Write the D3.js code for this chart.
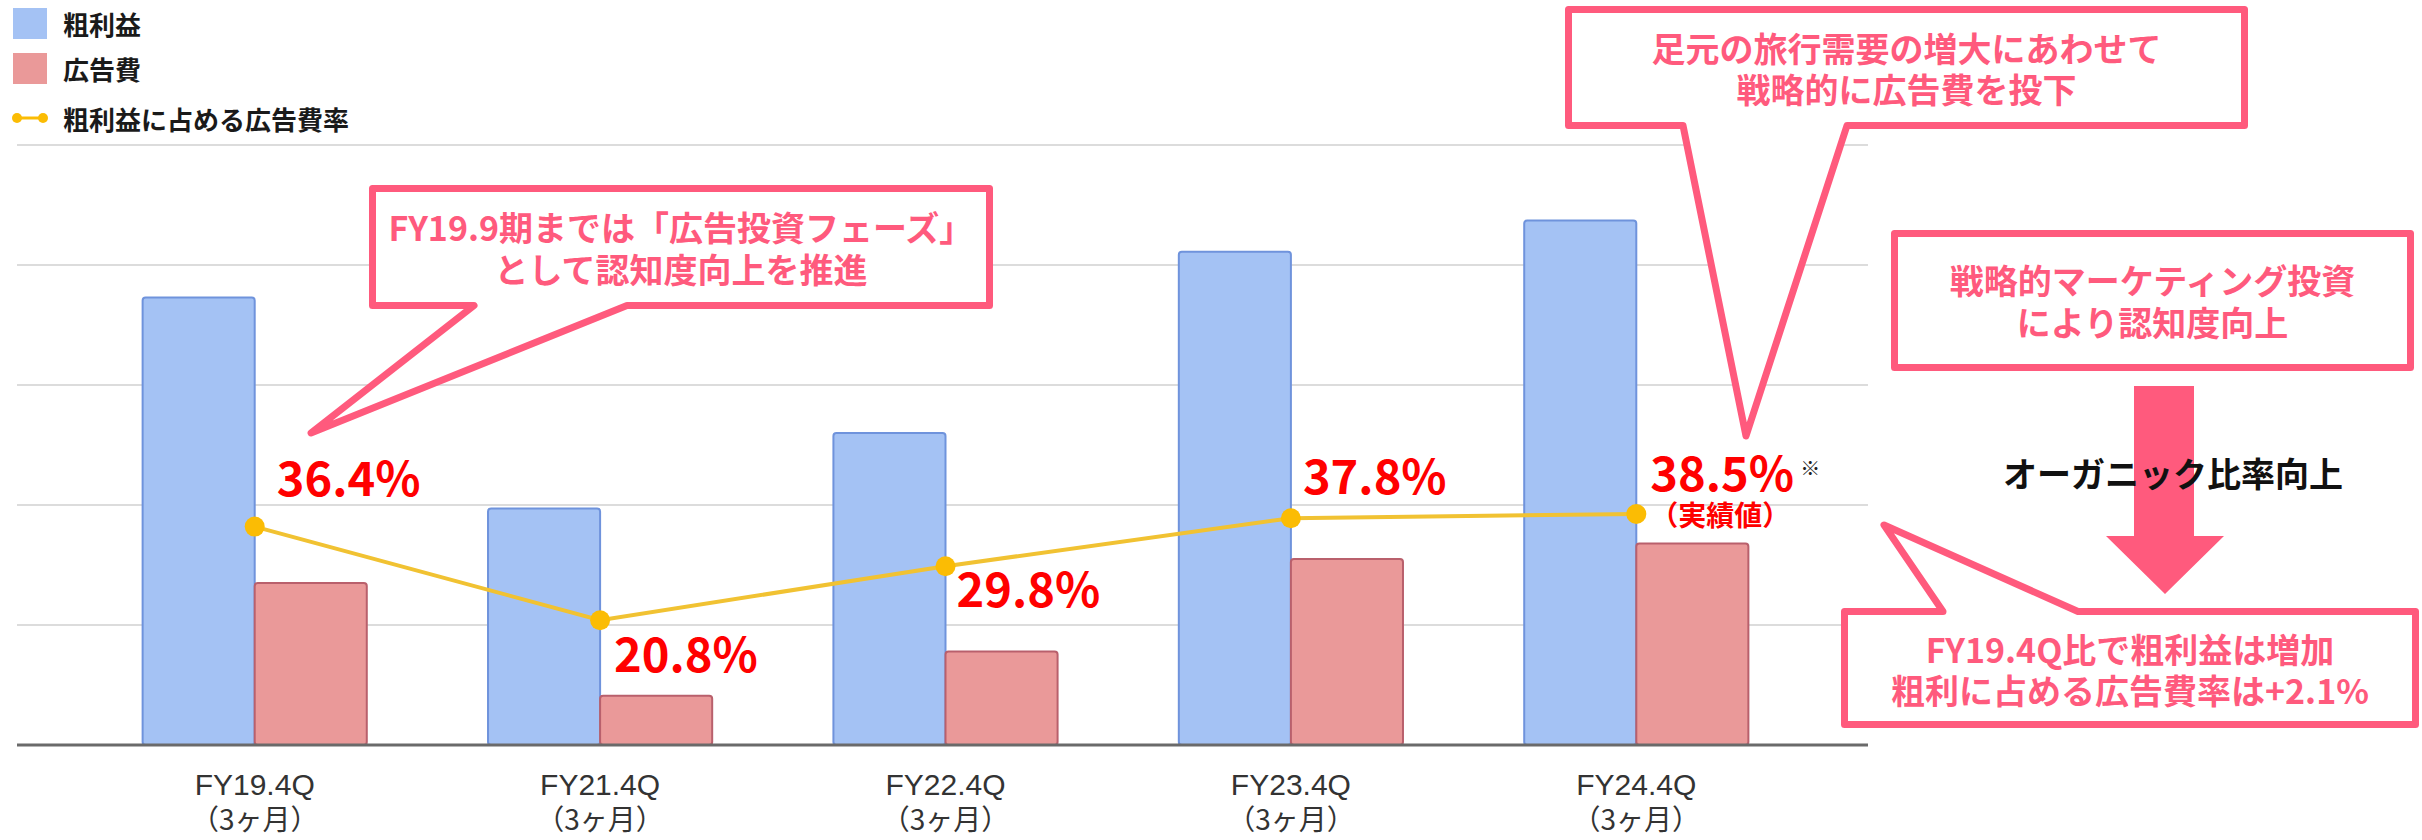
<!DOCTYPE html>
<html>
<head>
<meta charset="utf-8">
<script src="https://cdn.jsdelivr.net/npm/d3@7"></script>
<style>
  html, body { margin: 0; padding: 0; background: #fff; }
  svg { display: block; }
</style>
</head>
<body>
<div id="chart"></div>
<script>
// values (bar heights in arbitrary units, gridline = 100)
const categories = ["FY19.4Q", "FY21.4Q", "FY22.4Q", "FY23.4Q", "FY24.4Q"];
const periodLabels = ["（3ヶ月）", "（3ヶ月）", "（3ヶ月）", "（3ヶ月）", "（3ヶ月）"];
const grossProfit = [373, 197, 260, 411, 437];
const adCost = [135, 41, 78, 155, 168];
const adRatio = [36.4, 20.8, 29.8, 37.8, 38.5];
const ratioLabels = ["36.4%", "20.8%", "29.8%", "37.8%", "38.5%"];
const seriesNames = ["粗利益", "広告費", "粗利益に占める広告費率"];

const W = 2422, H = 840;
const JP = "'Noto Sans CJK JP', 'Noto Sans', sans-serif";
const PINK = "#ff5a7d";
const BLUE = "#a4c2f4", RED = "#ea9999", GOLD = "#fbbc04";

const svg = d3.select("#chart").append("svg")
  .attr("width", W).attr("height", H)
  .attr("viewBox", [0, 0, W, H]);

const x = d3.scaleBand().domain(categories)
  .range([82, 1809]).paddingInner(0.351).paddingOuter(0.1755);
const xs = d3.scaleBand().domain(["gross", "ad"]).range([0, x.bandwidth()]);
const y = d3.scaleLinear().domain([0, 500]).range([745, 145]);
const yr = d3.scaleLinear().domain([0, 100]).range([745, 145]);

// gridlines
svg.append("g").selectAll("line")
  .data(y.ticks(5).filter(d => d > 0))
  .join("line")
  .attr("x1", 17).attr("x2", 1868)
  .attr("y1", d => y(d)).attr("y2", d => y(d))
  .attr("stroke", "#dcdcdc").attr("stroke-width", 2);

// bars
const rows = categories.map((c, i) => ({ c, gross: grossProfit[i], ad: adCost[i], r: adRatio[i], i }));
const bars = svg.append("g");
bars.selectAll(".g").data(rows).join("rect")
  .attr("x", d => x(d.c) + xs("gross"))
  .attr("y", d => y(d.gross))
  .attr("width", xs.bandwidth())
  .attr("height", d => y(0) - y(d.gross))
  .attr("rx", 3)
  .attr("fill", BLUE).attr("stroke", "#6f93dc").attr("stroke-width", 2);
bars.selectAll(".a").data(rows).join("rect")
  .attr("x", d => x(d.c) + xs("ad"))
  .attr("y", d => y(d.ad))
  .attr("width", xs.bandwidth())
  .attr("height", d => y(0) - y(d.ad))
  .attr("rx", 3)
  .attr("fill", RED).attr("stroke", "#b9606c").attr("stroke-width", 2);

// baseline
svg.append("line")
  .attr("x1", 17).attr("x2", 1868).attr("y1", y(0)).attr("y2", y(0))
  .attr("stroke", "#6a6a6a").attr("stroke-width", 3);

// x axis with two-line labels
const xAxis = svg.append("g")
  .attr("transform", `translate(0,${y(0)})`)
  .call(d3.axisBottom(x).tickSize(0).tickPadding(0));
xAxis.select(".domain").remove();
xAxis.selectAll(".tick text").remove();
xAxis.selectAll(".tick").each(function (d, i) {
  const t = d3.select(this);
  t.append("text").attr("y", 50).attr("text-anchor", "middle")
    .attr("font-family", "'Liberation Sans', Arial, sans-serif")
    .attr("font-size", 30).attr("fill", "#333").text(d);
  t.append("text").attr("y", 85).attr("text-anchor", "middle")
    .attr("font-family", JP).attr("font-size", 28).attr("fill", "#333")
    .text(periodLabels[i]);
});

// ratio line
const cx = d => x(d.c) + x.bandwidth() / 2;
svg.append("path").datum(rows)
  .attr("fill", "none").attr("stroke", "#f1c232").attr("stroke-width", 4)
  .attr("d", d3.line().x(cx).y(d => yr(d.r)));
svg.append("g").selectAll("circle").data(rows).join("circle")
  .attr("cx", cx).attr("cy", d => yr(d.r)).attr("r", 10)
  .attr("fill", GOLD);

// ratio labels
const labelOffsets = [[22, -31], [14, 52], [11, 41], [12, -24], [14, -23]];
svg.append("g").selectAll("text").data(rows).join("text")
  .attr("x", d => cx(d) + labelOffsets[d.i][0])
  .attr("y", d => yr(d.r) + labelOffsets[d.i][1])
  .attr("font-family", JP).attr("font-weight", 700).attr("font-size", 47)
  .attr("fill", "#ff0000")
  .text(d => ratioLabels[d.i]);
const last = rows[rows.length - 1];
svg.append("text")
  .attr("x", cx(last) + 84).attr("y", yr(last.r) + 12)
  .attr("text-anchor", "middle")
  .attr("font-family", JP).attr("font-weight", 700).attr("font-size", 28)
  .attr("fill", "#ff0000").text("（実績値）");
svg.append("text")
  .attr("x", cx(last) + 174).attr("y", yr(last.r) - 38)
  .attr("text-anchor", "middle")
  .attr("font-family", JP).attr("font-size", 20).attr("fill", "#222")
  .text("※");

// legend
const legend = svg.append("g").attr("font-family", JP).attr("font-weight", 700)
  .attr("font-size", 26).attr("fill", "#1a1a1a");
legend.append("rect").attr("x", 13).attr("y", 8).attr("width", 34).attr("height", 31).attr("fill", BLUE);
legend.append("rect").attr("x", 13).attr("y", 53).attr("width", 34).attr("height", 31).attr("fill", RED);
legend.append("line").attr("x1", 17).attr("x2", 43).attr("y1", 118).attr("y2", 118)
  .attr("stroke", GOLD).attr("stroke-width", 3);
legend.selectAll("circle").data([17, 43]).join("circle")
  .attr("cx", d => d).attr("cy", 118).attr("r", 5).attr("fill", GOLD);
legend.selectAll("text").data(seriesNames).join("text")
  .attr("x", 63).attr("y", (d, i) => [23, 68, 118][i])
  .attr("dominant-baseline", "central")
  .text(d => d);

// callouts
function callout(b, tail) {
  const p = d3.path();
  p.moveTo(b.x0, b.y0);
  if (tail && tail.edge === "top") {
    p.lineTo(tail.a, b.y0); p.lineTo(tail.tx, tail.ty); p.lineTo(tail.b, b.y0);
  }
  p.lineTo(b.x1, b.y0);
  p.lineTo(b.x1, b.y1);
  if (tail && tail.edge === "bottom") {
    p.lineTo(tail.b, b.y1); p.lineTo(tail.tx, tail.ty); p.lineTo(tail.a, b.y1);
  }
  p.lineTo(b.x0, b.y1);
  p.closePath();
  return p.toString();
}
const notes = svg.append("g");
function drawNote(b, tail, lines, cy) {
  notes.append("path").attr("d", callout(b, tail))
    .attr("fill", "#fff").attr("stroke", PINK).attr("stroke-width", 7)
    .attr("stroke-linejoin", "round");
  lines.forEach((t, i) => {
    notes.append("text")
      .attr("x", (b.x0 + b.x1) / 2).attr("y", cy[i])
      .attr("text-anchor", "middle").attr("dominant-baseline", "central")
      .attr("font-family", JP).attr("font-weight", 700).attr("font-size", 34)
      .attr("fill", PINK).text(t);
  });
}
drawNote({ x0: 372.5, y0: 188.5, x1: 989.5, y1: 305.5 },
  { edge: "bottom", a: 474, b: 627, tx: 311, ty: 433 },
  ["FY19.9期までは「広告投資フェーズ」", "として認知度向上を推進"], [226, 268]);
drawNote({ x0: 1568.5, y0: 9.5, x1: 2244.5, y1: 125.5 },
  { edge: "bottom", a: 1683, b: 1847, tx: 1746, ty: 436 },
  ["足元の旅行需要の増大にあわせて", "戦略的に広告費を投下"], [47, 88]);
drawNote({ x0: 1894.5, y0: 233.5, x1: 2410.5, y1: 367.5 }, null,
  ["戦略的マーケティング投資", "により認知度向上"], [279, 321]);

// arrow
svg.append("path")
  .attr("d", "M2134,386 L2194,386 L2194,536 L2224,536 L2165,594 L2106,536 L2134,536 Z")
  .attr("fill", PINK);
svg.append("text")
  .attr("x", 2173).attr("y", 472)
  .attr("text-anchor", "middle").attr("dominant-baseline", "central")
  .attr("font-family", JP).attr("font-weight", 700).attr("font-size", 34)
  .attr("fill", "#111").text("オーガニック比率向上");

drawNote({ x0: 1844.5, y0: 611.5, x1: 2415.5, y1: 724.5 },
  { edge: "top", a: 1943, b: 2078, tx: 1884, ty: 525 },
  ["FY19.4Q比で粗利益は増加", "粗利に占める広告費率は+2.1%"], [648, 689]);
</script>
</body>
</html>
